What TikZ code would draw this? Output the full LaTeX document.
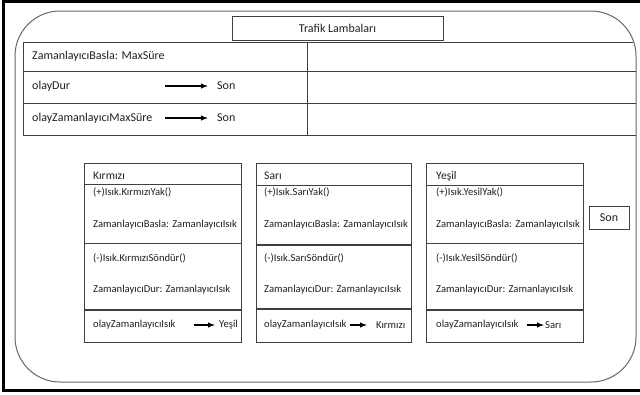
\documentclass[tikz,border=0pt]{standalone}
\usepackage{fontspec}
\setmainfont{Carlito}
\usepackage{tikz}
\usetikzlibrary{shapes, arrows, arrows.meta, positioning}
\definecolor{linegray}{gray}{0.25}
\definecolor{roundgray}{gray}{0.4}
\definecolor{textgray}{gray}{0.12}

\begin{document}
\begin{tikzpicture}[x=1pt, y=-1pt,
        bigtext/.style={anchor=west, inner sep=0pt, text=textgray, font=\fontsize{12}{14}\selectfont},
        headtext/.style={anchor=west, inner sep=0pt, text=textgray, font=\fontsize{11.6}{13}\selectfont},
        smalltext/.style={anchor=west, inner sep=0pt, text=textgray, font=\fontsize{10.6}{12}\selectfont},
        statebox/.style={rectangle, draw=linegray, line width=1pt, anchor=north west, minimum height=179pt, inner sep=0pt},
        divider/.style={draw=linegray, line width=1pt},
        thickdivider/.style={draw=linegray, line width=1.8pt},
        event/.style={draw, line width=1.1pt, -{Latex[length=7pt, width=5.5pt]}}]
        \useasboundingbox (0,0) rectangle (640,394);

        % Frame
        \draw[line width=3pt] (3,1.8) rectangle (660,390);
        \draw[roundgray, line width=1pt, rounded corners=45pt] (15,11) rectangle (636,382);

        % Title
        \node [rectangle, draw=linegray, line width=1pt, minimum width=211pt, minimum height=24pt, text=textgray, font=\fontsize{12}{14}\selectfont] (title) at (337.5,28) {Trafik Lambaları};

        % Table
        \draw[divider] (633,42) -- (23,42) -- (23,135) -- (636,135);
        \draw[divider] (23,71) -- (636,71);
        \draw[divider] (23,103) -- (636,103);
        \draw[divider] (307,42) -- (307,135);
        \node [bigtext] (basla) at (32,56) {ZamanlayıcıBasla: MaxSüre};
        \node [bigtext] (dur) at (32,86) {olayDur};
        \node [bigtext, inner xsep=9pt] (durson) at (208,86) {Son};
        \node [bigtext] (maxsure) at (32,118) {olayZamanlayıcıMaxSüre};
        \node [bigtext, inner xsep=9pt] (maxson) at (208,118) {Son};
        \coordinate (durstart) at (165,86);
        \coordinate (maxstart) at (165,118);
        \path [event] (durstart) -- (durson.west);
        \path [event] (maxstart) -- (maxson.west);

        % Kirmizi
        \node [statebox, minimum width=157pt] (kirmizi) at (84,163) {};
        \draw[divider] ([yshift=-21pt]kirmizi.north west) -- ([yshift=-21pt]kirmizi.north east);
        \draw[divider] ([yshift=-80pt]kirmizi.north west) -- ([yshift=-80pt]kirmizi.north east);
        \draw[thickdivider] ([yshift=-147pt]kirmizi.north west) -- ([yshift=-147pt]kirmizi.north east);
        \node [headtext] (kirmiziname) at (93,176) {Kırmızı};
        \node [smalltext] (kirmiziyak) at (93,192) {(+)Isık.KırmızıYak()};
        \node [smalltext] (kirmizibasla) at (93,225) {ZamanlayıcıBasla: ZamanlayıcıIsık};
        \node [smalltext] (kirmizisondur) at (93,258) {(-)Isık.KırmızıSöndür()};
        \node [smalltext] (kirmizidur) at (93,290) {ZamanlayıcıDur: ZamanlayıcıIsık};
        \node [smalltext] (kirmizievent) at (93,325) {olayZamanlayıcıIsık};
        \node [smalltext, inner xsep=4pt] (kirmizinext) at (215,325) {Yeşil};
        \coordinate (kirmizistart) at (194,325);
        \path [event] (kirmizistart) -- (kirmizinext.west);

        % Sari
        \node [statebox, minimum width=155pt] (sari) at (256,163) {};
        \draw[divider] ([yshift=-22pt]sari.north west) -- ([yshift=-22pt]sari.north east);
        \draw[thickdivider] ([yshift=-82pt]sari.north west) -- ([yshift=-82pt]sari.north east);
        \draw[thickdivider] ([yshift=-146pt]sari.north west) -- ([yshift=-146pt]sari.north east);
        \node [headtext] (sariname) at (264,176) {Sarı};
        \node [smalltext] (sariyak) at (264,192) {(+)Isık.SarıYak()};
        \node [smalltext] (saribasla) at (264,225) {ZamanlayıcıBasla: ZamanlayıcıIsık};
        \node [smalltext] (sarisondur) at (264,258) {(-)Isık.SarıSöndür()};
        \node [smalltext] (saridur) at (264,290) {ZamanlayıcıDur: ZamanlayıcıIsık};
        \node [smalltext] (sarievent) at (264,325) {olayZamanlayıcıIsık};
        \node [smalltext, inner xsep=9pt] (sarinext) at (367,325) {Kırmızı};
        \coordinate (saristart) at (350,325);
        \path [event] (saristart) -- (sarinext.west);

        % Yesil
        \node [statebox, minimum width=157pt] (yesil) at (426,163) {};
        \draw[divider] ([yshift=-22pt]yesil.north west) -- ([yshift=-22pt]yesil.north east);
        \draw[divider] ([yshift=-80pt]yesil.north west) -- ([yshift=-80pt]yesil.north east);
        \draw[thickdivider] ([yshift=-147pt]yesil.north west) -- ([yshift=-147pt]yesil.north east);
        \node [headtext] (yesilname) at (436,176) {Yeşil};
        \node [smalltext] (yesilyak) at (436,192) {(+)Isık.YesilYak()};
        \node [smalltext] (yesilbasla) at (436,225) {ZamanlayıcıBasla: ZamanlayıcıIsık};
        \node [smalltext] (yesilsondur) at (436,258) {(-)Isık.YesilSöndür()};
        \node [smalltext] (yesildur) at (436,290) {ZamanlayıcıDur: ZamanlayıcıIsık};
        \node [smalltext] (yesilevent) at (436,325) {olayZamanlayıcıIsık};
        \node [smalltext, inner xsep=1pt] (yesilnext) at (544,325) {Sarı};
        \coordinate (yesilstart) at (527,325);
        \path [event] (yesilstart) -- (yesilnext.west);

        % Son
        \node [rectangle, draw=linegray, line width=1pt, minimum width=40pt, minimum height=23pt, text=textgray, font=\fontsize{12}{14}\selectfont] (son) at (609,217.5) {Son};
    \end{tikzpicture}
\end{document}
